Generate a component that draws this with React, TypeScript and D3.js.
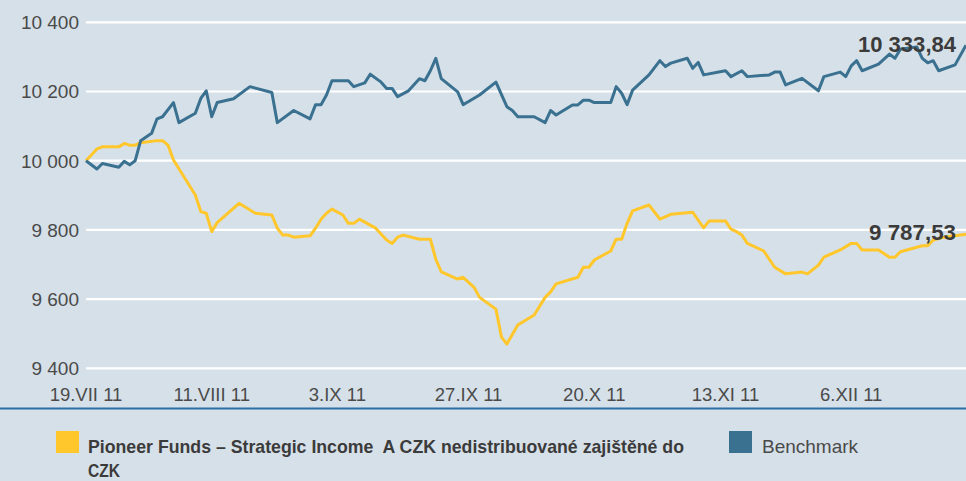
import React from "react";
import * as d3 from "d3";

const W = 966;
const H = 481;

const fundName = "Pioneer Funds – Strategic Income\u00a0 A CZK nedistribuované zajištěné do";
const fundName2 = "CZK";
const benchName = "Benchmark";

const fundDates = [
  "2011-07-19","2011-07-21","2011-07-22","2011-07-25","2011-07-26","2011-07-27","2011-07-28","2011-07-29",
  "2011-08-01","2011-08-02","2011-08-03","2011-08-04","2011-08-08","2011-08-09","2011-08-10","2011-08-11","2011-08-12","2011-08-16","2011-08-19","2011-08-22","2011-08-23","2011-08-24","2011-08-25","2011-08-26","2011-08-29","2011-08-30","2011-08-31",
  "2011-09-01","2011-09-02","2011-09-04","2011-09-05","2011-09-06","2011-09-07","2011-09-10","2011-09-12","2011-09-13","2011-09-14","2011-09-15","2011-09-18","2011-09-20","2011-09-21","2011-09-22","2011-09-25","2011-09-26","2011-09-28","2011-09-29",
  "2011-10-02","2011-10-03","2011-10-04","2011-10-06","2011-10-09","2011-10-11","2011-10-12","2011-10-13","2011-10-17","2011-10-18","2011-10-19","2011-10-20","2011-10-23","2011-10-24","2011-10-25","2011-10-26","2011-10-27","2011-10-30",
  "2011-11-01","2011-11-03","2011-11-07","2011-11-09","2011-11-10","2011-11-13","2011-11-14","2011-11-15","2011-11-16","2011-11-17","2011-11-20","2011-11-22","2011-11-24","2011-11-27","2011-11-28","2011-11-30",
  "2011-12-01","2011-12-04","2011-12-06","2011-12-07","2011-12-08","2011-12-11","2011-12-13","2011-12-14","2011-12-15","2011-12-18","2011-12-19","2011-12-20","2011-12-21","2011-12-23","2011-12-27"
];
const fundValues = [
  10000,10034,10040,10040,10050,10045,10045,10052,
  10058,10058,10045,10002,9901,9853,9848,9795,9821,9877,9848,9843,9805,9785,9785,9779,9783,9805,9831,
  9848,9860,9843,9819,9819,9831,9805,9771,9761,9779,9785,9773,9773,9715,9679,9658,9663,9634,9605,
  9571,9491,9470,9525,9554,9605,9621,9644,9663,9692,9692,9713,9739,9773,9773,9819,9855,9872,
  9831,9845,9851,9806,9826,9826,9802,9795,9785,9761,9739,9692,9673,9678,9673,9698,
  9721,9742,9761,9761,9742,9742,9721,9721,9737,9750,9754,9754,9771,9779,9787.53
];

const benchDates = [
  "2011-07-19","2011-07-21","2011-07-22","2011-07-25","2011-07-26","2011-07-27","2011-07-28","2011-07-29","2011-07-31",
  "2011-08-01","2011-08-02","2011-08-04","2011-08-05","2011-08-08","2011-08-09","2011-08-10","2011-08-11","2011-08-12","2011-08-15","2011-08-18","2011-08-22","2011-08-23","2011-08-26","2011-08-29","2011-08-30","2011-08-31",
  "2011-09-01","2011-09-02","2011-09-05","2011-09-06","2011-09-08","2011-09-09","2011-09-11","2011-09-12","2011-09-13","2011-09-14","2011-09-16","2011-09-18","2011-09-19","2011-09-20","2011-09-21","2011-09-22","2011-09-25","2011-09-26","2011-09-27","2011-09-29",
  "2011-10-02","2011-10-04","2011-10-05","2011-10-06","2011-10-09","2011-10-11","2011-10-12","2011-10-13","2011-10-16","2011-10-17","2011-10-18","2011-10-19","2011-10-20","2011-10-23","2011-10-24","2011-10-25","2011-10-26","2011-10-27","2011-10-30",
  "2011-11-01","2011-11-02","2011-11-03","2011-11-06","2011-11-07","2011-11-08","2011-11-09","2011-11-12","2011-11-13","2011-11-14","2011-11-16","2011-11-17","2011-11-21","2011-11-22","2011-11-23","2011-11-24","2011-11-27","2011-11-30",
  "2011-12-01","2011-12-04","2011-12-05","2011-12-06","2011-12-07","2011-12-08","2011-12-11","2011-12-13","2011-12-14","2011-12-15","2011-12-18","2011-12-19","2011-12-20","2011-12-21","2011-12-22","2011-12-25","2011-12-27"
];
const benchValues = [
  10000,9976,9992,9981,9998,9988,10000,10058,10079,
  10121,10127,10168,10110,10137,10180,10202,10127,10168,10179,10214,10197,10110,10145,10121,10162,10162,
  10190,10231,10231,10214,10225,10250,10227,10209,10209,10185,10202,10237,10231,10260,10296,10237,10199,10162,10171,10190,
  10227,10156,10145,10127,10127,10110,10145,10132,10161,10161,10175,10175,10168,10168,10214,10195,10162,10204,10248,
  10289,10272,10282,10296,10267,10284,10248,10257,10260,10243,10260,10243,10248,10256,10256,10219,10238,10202,
  10243,10256,10243,10274,10289,10260,10279,10308,10296,10322,10329,10296,10283,10289,10260,10277,10333.84
];

const yTicks = [9400, 9600, 9800, 10000, 10200, 10400];
const xTickDates = ["2011-07-19","2011-08-11","2011-09-03","2011-09-27","2011-10-20","2011-11-13","2011-12-06"];
const xTickLabels = ["19.VII 11","11.VIII 11","3.IX 11","27.IX 11","20.X 11","13.XI 11","6.XII 11"];
const endLabels = ["10 333,84", "9 787,53"];

const parse = d3.timeParse("%Y-%m-%d");
const locale = d3.formatLocale({ decimal: ",", thousands: " ", grouping: [3], currency: ["", ""] });
const fmtTick = locale.format(",.0f");

const BG = "#d6e0e8";
const YELLOW = "#ffc72c";
const BLUE = "#3a7190";
const FONT = "'Liberation Sans', Arial, sans-serif";

export default function App() {
  const x = d3.scaleTime()
    .domain([parse("2011-07-19")!, parse("2011-12-27")!])
    .range([86, 966]);
  const y = d3.scaleLinear().domain([9400, 10400]).range([368.3, 22.3]);

  const fund = fundDates.map((d, i) => ({ d: parse(d)!, v: fundValues[i] }));
  const bench = benchDates.map((d, i) => ({ d: parse(d)!, v: benchValues[i] }));

  const line = d3.line<{ d: Date; v: number }>()
    .x((p) => x(p.d))
    .y((p) => y(p.v));

  return (
    <svg
      width={W}
      height={H}
      style={{ position: "fixed", left: 0, top: 0, display: "block" }}
      fontFamily={FONT}
    >
      <rect x={0} y={0} width={W} height={H} fill={BG} />
      {yTicks.map((t) => (
        <g key={t}>
          <line x1={86} x2={W} y1={y(t)} y2={y(t)} stroke="#ffffff" strokeWidth={2.2} />
          <text x={79} y={y(t)} dy="0.36em" textAnchor="end" fontSize={19} fill="#4a4a4a">
            {fmtTick(t)}
          </text>
        </g>
      ))}
      {xTickDates.map((d, i) => (
        <text key={d} x={x(parse(d)!)} y={401} textAnchor="middle" fontSize={18.5} fill="#4a4a4a">
          {xTickLabels[i]}
        </text>
      ))}
      <line x1={0} x2={W} y1={408.5} y2={408.5} stroke="#2a6ea6" strokeWidth={2} />

      <path d={line(fund) ?? ""} fill="none" stroke={YELLOW} strokeWidth={3} strokeLinejoin="round" />
      <path d={line(bench) ?? ""} fill="none" stroke={BLUE} strokeWidth={3} strokeLinejoin="round" />

      <text x={956} y={52} textAnchor="end" fontSize={22} fontWeight="bold" fill="#3b3b3b"
        textLength={98} lengthAdjust="spacingAndGlyphs">
        {endLabels[0]}
      </text>
      <text x={956} y={240} textAnchor="end" fontSize={22} fontWeight="bold" fill="#3b3b3b"
        textLength={87} lengthAdjust="spacingAndGlyphs">
        {endLabels[1]}
      </text>

      <rect x={56} y={431} width={23} height={22} fill={YELLOW} />
      <text x={88} y={453} fontSize={19} fontWeight="bold" fill="#3b3b3b"
        textLength={596} lengthAdjust="spacingAndGlyphs">
        {fundName}
      </text>
      <text x={88} y={477} fontSize={18} fontWeight="bold" fill="#3b3b3b"
        textLength={32} lengthAdjust="spacingAndGlyphs">
        {fundName2}
      </text>
      <rect x={729} y={431} width={23} height={22} fill={BLUE} />
      <text x={762} y={453} fontSize={19} fill="#4a4a4a">
        {benchName}
      </text>
    </svg>
  );
}
